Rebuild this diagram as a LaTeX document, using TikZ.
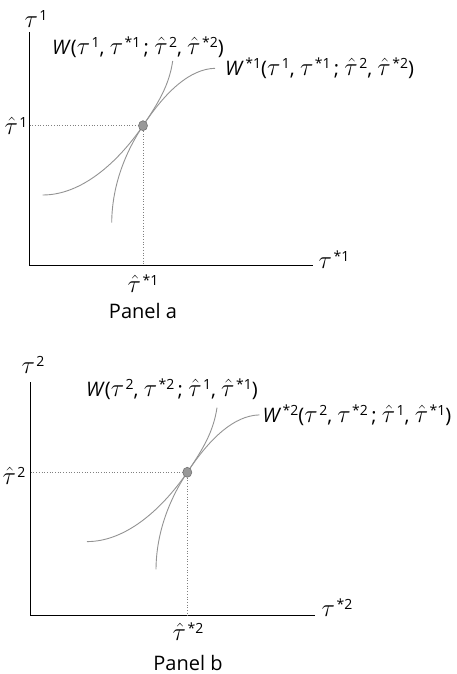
\documentclass[tikz,border=0pt]{standalone}
\usepackage{fontspec}
\setmainfont{Open Sans}
\usetikzlibrary{shapes.geometric}
\newcommand\ttau{{\fontsize{24}{24}\selectfont$\tau$}}
\newcommand\htau{{\fontsize{24}{24}\selectfont$\hat{\tau}$}}
\newcommand\su[1]{\hspace{1.5pt}\raisebox{7pt}{\fontsize{14}{14}\selectfont #1}}
\tikzset{
  lbl/.style={inner sep=0pt, font=\fontsize{20}{24}\selectfont},
  axis/.style={line width=1.3pt, black},
  curve/.style={line width=0.9pt, gray!85},
  guide/.style={line width=0.7pt, gray, dotted},
  eqpt/.style={ellipse, minimum width=9pt, minimum height=10pt, inner sep=0pt, fill=gray!80, draw=gray!90!black, line width=0.6pt},
  eqcurves/.pic={
    \draw[curve] (-100.3,69.3) .. controls (-61,69.3) and (-25,36.3) .. (0,0) .. controls (23,-34.7) and (47,-56.7) .. (72,-57.4);
    \draw[curve] (-31.3,97) .. controls (-31,60.3) and (-18,27) .. (0,0) .. controls (15,-22.5) and (26,-39.7) .. (29.7,-64.7);
  }
}
\begin{document}
\begin{tikzpicture}[x=1pt,y=-1pt]
\useasboundingbox (0,0) rectangle (456,674);
% ---------- Panel a ----------
\coordinate (oa) at (29.5,265.7);
\coordinate (ta) at (29.5,32);
\coordinate (ra) at (313,265.7);
\coordinate (pa) at (143,125.7);
\coordinate (pax) at (143,265.7);
\coordinate (pay) at (29.5,125.7);
\draw[axis] (ta) -- (oa) -- (ra);
\draw[guide] (pay) -- (pa) -- (pax);
\pic at (pa) {eqcurves};
\node[eqpt] (dota) at (pa) {};
\node[lbl] (ya) at (36,19) {\ttau\su{1}};
\node[lbl] (xa) at (334,260) {\ttau\su{*1}};
\node[lbl] (hya) at (16,126) {\htau\su{1}};
\node[lbl] (hxa) at (143,284) {\htau\su{*1}};
\node[lbl, anchor=west] (Wa) at (52,47.7) {\textit{W}(\ttau\su{1}, \ttau\su{*1}\,; \htau\su{2}, \htau\su{*2})};
\node[lbl, anchor=west] (Va) at (225,68) {\textit{W}\su{*1}(\ttau\su{1}, \ttau\su{*1}\,; \htau\su{2}, \htau\su{*2})};
\node[lbl] (capa) at (143,311) {Panel a};
% ---------- Panel b ----------
\coordinate (ob) at (30.7,615.7);
\coordinate (tb) at (30.7,382.3);
\coordinate (rb) at (315,615.7);
\coordinate (pb) at (187.3,472.3);
\coordinate (pbx) at (187.3,615.7);
\coordinate (pby) at (30.7,472.3);
\draw[axis] (tb) -- (ob) -- (rb);
\draw[guide] (pby) -- (pb) -- (pbx);
\pic at (pb) {eqcurves};
\node[eqpt] (dotb) at (pb) {};
\node[lbl] (yb) at (33,365) {\ttau\su{2}};
\node[lbl] (xb) at (337,608) {\ttau\su{*2}};
\node[lbl] (hyb) at (14,476) {\htau\su{2}};
\node[lbl] (hxb) at (188,632) {\htau\su{*2}};
\node[lbl, anchor=west] (Wb) at (86,389.3) {\textit{W}(\ttau\su{2}, \ttau\su{*2}\,; \htau\su{1}, \htau\su{*1})};
\node[lbl, anchor=west] (Vb) at (262.3,415) {\textit{W}\su{*2}(\ttau\su{2}, \ttau\su{*2}\,; \htau\su{1}, \htau\su{*1})};
\node[lbl] (capb) at (188,663) {Panel b};
\end{tikzpicture}
\end{document}
